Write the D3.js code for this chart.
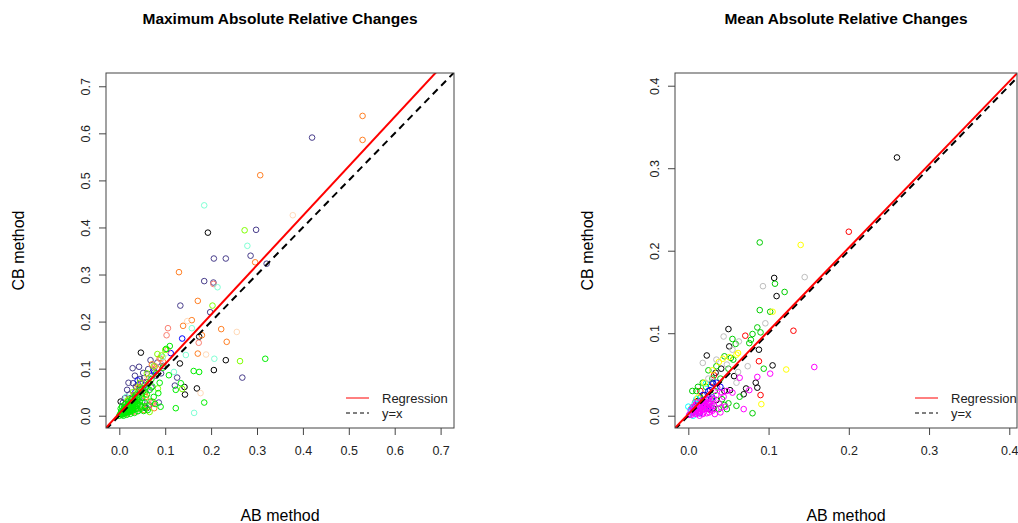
<!DOCTYPE html>
<html>
<head>
<meta charset="utf-8">
<script src="https://cdn.jsdelivr.net/npm/d3@7"></script>
<style>
  html, body { margin: 0; padding: 0; background: #fff; }
  svg { display: block; font-family: "Liberation Sans", Arial, sans-serif; }
</style>
</head>
<body>
<svg id="chart" width="1018" height="523"></svg>
<script>
// ---- Maximum absolute relative changes: [AB method, CB method] per group ----
const maxBlack = [[0.193,0.389],[0.232,0.118],[0.206,0.097],[0.174,0.168],[0.132,0.111],[0.047,0.134],
  [0.142,0.061],[0.143,0.045],[0.169,0.058],[0.003,0.030],[0.034,0.040],[0.056,0.017],[0.020,0.025],
  [0.045,0.060],[0.012,0.008]];
const maxSlate = [[0.420,0.591],[0.298,0.395],[0.286,0.340],[0.321,0.323],[0.206,0.334],[0.232,0.334],
  [0.185,0.286],[0.205,0.283],[0.133,0.234],[0.198,0.220],[0.268,0.081],[0.126,0.081],[0.121,0.064],
  [0.068,0.118],[0.029,0.101],[0.043,0.104],[0.091,0.090],[0.086,0.028],[0.052,0.091],[0.063,0.099],
  [0.076,0.092],[0.030,0.069],[0.036,0.062],[0.017,0.055],[0.012,0.037],[0.039,0.044],[0.057,0.051],
  [0.050,0.030],[0.065,0.023],[0.083,0.113],[0.096,0.106],[0.022,0.045],[0.045,0.078],[0.058,0.072],
  [0.008,0.028],[0.070,0.060],[0.034,0.085],[0.020,0.070],[0.060,0.016],[0.080,0.085],[0.048,0.055],
  [0.014,0.018],[0.026,0.038],[0.041,0.066],[0.054,0.080],[0.018,0.030]];
const maxBlue = [[0.137,0.164],[0.112,0.133],[0.040,0.075],[0.025,0.035],[0.055,0.065],[0.010,0.015],
  [0.070,0.085],[0.035,0.050],[0.075,0.096]];
const maxOrange = [[0.530,0.637],[0.530,0.586],[0.307,0.511],[0.296,0.326],[0.130,0.305],[0.171,0.244],
  [0.158,0.203],[0.139,0.191],[0.222,0.184],[0.234,0.157],[0.180,0.171],[0.171,0.132],[0.071,0.109],
  [0.032,0.044],[0.072,0.030],[0.076,0.016],[0.038,0.009],[0.054,0.012],[0.088,0.122],[0.065,0.080],
  [0.045,0.058],[0.020,0.030],[0.095,0.115],[0.058,0.040],[0.025,0.012],[0.082,0.100],[0.012,0.006]];
const maxSalmon = [[0.205,0.280],[0.106,0.186],[0.103,0.171],[0.173,0.155],[0.074,0.028],[0.105,0.140],
  [0.090,0.120],[0.050,0.070],[0.030,0.008],[0.062,0.022],[0.078,0.105],[0.018,0.004],[0.042,0.015]];
const maxBisque = [[0.378,0.426],[0.148,0.201],[0.256,0.178],[0.189,0.130],[0.177,0.048],[0.100,0.132],
  [0.060,0.085]];
const maxAqua = [[0.185,0.447],[0.279,0.361],[0.214,0.273],[0.158,0.186],[0.207,0.121],[0.145,0.129],
  [0.119,0.093],[0.163,0.006],[0.040,0.010],[0.015,0.040],[0.095,0.125]];
const maxGold = [[0.030,0.022],[0.055,0.045],[0.018,0.032],[0.040,0.060],[0.065,0.070]];
const maxChart = [[0.273,0.394],[0.203,0.234],[0.263,0.116],[0.137,0.057],[0.083,0.131],[0.084,0.058],
  [0.100,0.140],[0.092,0.128],[0.060,0.090],[0.045,0.070],[0.030,0.050],[0.075,0.105],[0.020,0.035],
  [0.010,0.012],[0.050,0.020],[0.066,0.008]];
const maxGreen = [[0.318,0.121],[0.162,0.095],[0.174,0.093],[0.185,0.028],[0.123,0.016],[0.090,0.019],
  [0.108,0.086],[0.102,0.142],[0.110,0.148],[0.085,0.048],[0.134,0.069],[0.123,0.055],
  [0.002,0.004],[0.005,0.008],[0.008,0.003],[0.010,0.012],[0.012,0.006],[0.015,0.015],[0.018,0.010],
  [0.020,0.020],[0.022,0.008],[0.025,0.018],[0.028,0.025],[0.030,0.012],[0.032,0.030],[0.035,0.020],
  [0.038,0.035],[0.040,0.025],[0.042,0.040],[0.045,0.030],[0.048,0.045],[0.050,0.038],[0.052,0.052],
  [0.055,0.028],[0.058,0.060],[0.060,0.045],[0.063,0.068],[0.066,0.055],[0.070,0.078],[0.072,0.062],
  [0.075,0.040],[0.080,0.090],[0.003,0.015],[0.006,0.020],[0.009,0.000],[0.013,0.025],[0.016,0.002],
  [0.019,0.030],[0.024,0.004],[0.027,0.035],[0.033,0.006],[0.036,0.045],[0.041,0.010],[0.044,0.055],
  [0.047,0.015],[0.053,0.010],[0.057,0.020],[0.062,0.012],[0.068,0.030],[0.078,0.025],[0.088,0.070],
  [0.095,0.102],[0.000,0.000],[0.004,0.010],[0.011,0.018],[0.017,0.022],[0.023,0.028],[0.029,0.018],
  [0.034,0.040],[0.039,0.015],[0.046,0.022],[0.051,0.058],
  [0.005,0.002],[0.007,0.006],[0.010,0.005],[0.012,0.010],[0.014,0.008],[0.016,0.012],[0.018,0.016],
  [0.020,0.014],[0.022,0.018],[0.024,0.022],[0.026,0.020],[0.028,0.015],[0.030,0.026],[0.032,0.022],
  [0.034,0.028],[0.036,0.030],[0.038,0.026],[0.040,0.032],[0.015,0.006],[0.019,0.008],[0.023,0.012],
  [0.027,0.010],[0.031,0.016],[0.035,0.014],[0.008,0.012],[0.012,0.016],[0.016,0.020],[0.021,0.024],
  [0.025,0.030],[0.006,0.004]];

// ---- Mean absolute relative changes: [AB method, CB method] per group ----
const meanBlack = [[0.260,0.313],[0.107,0.167],[0.110,0.145],[0.050,0.105],[0.051,0.084],[0.088,0.080],
  [0.023,0.073],[0.041,0.057],[0.105,0.061],[0.057,0.048],[0.084,0.040],[0.086,0.034],[0.072,0.033],
  [0.069,0.026],[0.052,0.031],[0.035,0.019],[0.031,0.009],[0.030,0.040],[0.020,0.025],[0.012,0.018],
  [0.045,0.030],[0.025,0.008],[0.034,0.052],[0.008,0.010]];
const meanRed = [[0.200,0.223],[0.131,0.103],[0.071,0.097],[0.088,0.066],[0.090,0.025],[0.032,0.049],
  [0.009,0.017],[0.015,0.030],[0.022,0.012],[0.028,0.035],[0.005,0.010]];
const meanGreen = [[0.089,0.210],[0.108,0.160],[0.120,0.150],[0.089,0.128],[0.102,0.126],[0.086,0.107],
  [0.090,0.101],[0.080,0.099],[0.078,0.092],[0.076,0.088],[0.055,0.093],[0.059,0.087],[0.045,0.072],
  [0.053,0.070],[0.056,0.068],[0.050,0.057],[0.094,0.057],[0.064,0.023],[0.080,0.003],[0.045,0.013],
  [0.012,0.035],[0.005,0.030],[0.035,0.060],[0.030,0.045],[0.025,0.055],[0.040,0.045],[0.018,0.040],
  [0.010,0.030],[0.042,0.020],[0.050,0.015],[0.028,0.020],[0.020,0.010],[0.033,0.030],[0.015,0.022],
  [0.048,0.008],[0.060,0.012],[0.038,0.008],[0.022,0.035]];
const meanBlue = [[0.015,0.018],[0.025,0.030],[0.010,0.008],[0.035,0.040],[0.020,0.012],[0.030,0.022],
  [0.005,0.004],[0.040,0.035],[0.018,0.025],[0.028,0.010],[0.027,0.031],[0.031,0.039],
  [0.008,0.005],[0.012,0.013],[0.016,0.014],[0.022,0.020],[0.014,0.003]];
const meanCyan = [[0.003,0.008],[0.008,0.015],[0.012,0.005],[0.002,0.002],[0.006,0.000],[0.018,0.008],
  [0.010,0.020],[0.022,0.039],[0.000,0.011],[0.004,0.005],[0.011,0.011]];
const meanMagenta = [[0.157,0.059],[0.102,0.051],[0.086,0.047],[0.064,0.046],[0.076,0.031],[0.069,0.008],
  [0.046,0.011],[0.044,0.023],[0.042,0.028],[0.041,0.010],[0.005,0.003],[0.008,0.006],[0.010,0.002],
  [0.012,0.010],[0.015,0.005],[0.018,0.012],[0.020,0.008],[0.022,0.015],[0.025,0.010],[0.028,0.018],
  [0.030,0.006],[0.003,0.006],[0.006,0.010],[0.014,0.000],[0.017,0.018],[0.023,0.003],[0.026,0.022],
  [0.032,0.012],[0.035,0.025],[0.038,0.015],[0.001,0.001],[0.009,0.013],[0.011,0.016],[0.019,0.004],
  [0.024,0.020],[0.033,0.002],[0.016,0.009],[0.013,0.004],[0.021,0.011],[0.027,0.007],[0.048,0.030],
  [0.040,0.004],[0.055,0.028],[0.036,0.034],
  [0.004,0.001],[0.007,0.004],[0.009,0.003],[0.011,0.007],[0.013,0.008],[0.015,0.011],[0.017,0.007],
  [0.019,0.014],[0.021,0.013],[0.023,0.009],[0.025,0.016],[0.027,0.014],[0.029,0.012],[0.031,0.020],
  [0.014,0.012],[0.018,0.002],[0.010,0.009],[0.006,0.007],[0.020,0.017],[0.026,0.004]];
const meanYellow = [[0.140,0.207],[0.105,0.126],[0.122,0.056],[0.091,0.014],[0.043,0.069],[0.060,0.074],
  [0.051,0.071],[0.062,0.076],[0.030,0.055],[0.020,0.040],[0.038,0.065],[0.012,0.022]];
const meanGray = [[0.145,0.168],[0.093,0.157],[0.096,0.112],[0.044,0.096],[0.063,0.090],[0.074,0.060],
  [0.062,0.053],[0.018,0.064],[0.035,0.068],[0.025,0.045],[0.055,0.080],[0.048,0.062],[0.030,0.015],
  [0.060,0.040]];

// axis ticks and fitted lines
const maxTicks = [0, 0.1, 0.2, 0.3, 0.4, 0.5, 0.6, 0.7];
const meanTicks = [0, 0.1, 0.2, 0.3, 0.4];
const maxFit = { intercept: 0.005, slope: 1.05 };
const meanFit = { intercept: 0.002, slope: 1.008 };
const legendLabels = ["Regression", "y=x"];

const svg = d3.select("#chart");

function drawPanel(cfg) {
  const x = d3.scaleLinear().domain(cfg.xDomain).range([cfg.left, cfg.right]);
  const y = d3.scaleLinear().domain(cfg.yDomain).range([cfg.bottom, cfg.top]);
  const g = svg.append("g");

  // title
  g.append("text")
    .attr("x", (cfg.left + cfg.right) / 2).attr("y", 24)
    .attr("text-anchor", "middle")
    .style("font-size", "15.5px").style("font-weight", "bold").attr("fill", "#000")
    .text(cfg.title);

  // x axis
  const xa = g.append("g").attr("transform", `translate(0,${cfg.bottom})`)
    .call(d3.axisBottom(x).tickValues(cfg.ticks).tickFormat(d3.format(".1f")).tickSize(7).tickPadding(11));
  xa.select(".domain").remove();
  xa.selectAll("line").attr("stroke", "#444");
  xa.selectAll("text").style("font-size", "12.5px").attr("fill", "#222")
    .style("font-family", "'Liberation Sans', Arial, sans-serif");

  // y axis with rotated labels
  const ya = g.append("g").attr("transform", `translate(${cfg.left},0)`)
    .call(d3.axisLeft(y).tickValues(cfg.ticks).tickFormat(d3.format(".1f")).tickSize(7));
  ya.select(".domain").remove();
  ya.selectAll("line").attr("stroke", "#444");
  ya.selectAll("text")
    .attr("transform", "rotate(-90)")
    .attr("x", 0).attr("y", -16).attr("dy", 0)
    .style("text-anchor", "middle").style("font-size", "12.5px").attr("fill", "#222")
    .style("font-family", "'Liberation Sans', Arial, sans-serif");

  // axis titles
  g.append("text")
    .attr("x", (cfg.left + cfg.right) / 2).attr("y", 521)
    .attr("text-anchor", "middle").style("font-size", "16px").attr("fill", "#000")
    .text("AB method");
  g.append("text")
    .attr("transform", `translate(${cfg.left - 82},${(cfg.top + cfg.bottom) / 2}) rotate(-90)`)
    .attr("text-anchor", "middle").style("font-size", "16px").attr("fill", "#000")
    .text("CB method");

  // clip region for points and lines
  const clipId = "clip-" + cfg.id;
  svg.append("clipPath").attr("id", clipId).append("rect")
    .attr("x", cfg.left).attr("y", cfg.top)
    .attr("width", cfg.right - cfg.left).attr("height", cfg.bottom - cfg.top);
  const plot = g.append("g").attr("clip-path", `url(#${clipId})`);

  // points, series by series
  cfg.series.forEach(s => {
    plot.append("g").selectAll("circle").data(s.data).join("circle")
      .attr("cx", d => x(d[0])).attr("cy", d => y(d[1]))
      .attr("r", 2.8).attr("fill", "none")
      .attr("stroke", s.color).attr("stroke-width", 1);
  });

  // y = x reference and regression line
  const x0 = cfg.xDomain[0], x1 = cfg.xDomain[1];
  plot.append("line")
    .attr("x1", x(x0)).attr("y1", y(x0)).attr("x2", x(x1)).attr("y2", y(x1))
    .attr("stroke", "#000").attr("stroke-width", 2).attr("stroke-dasharray", "7,5");
  plot.append("line")
    .attr("x1", x(x0)).attr("y1", y(cfg.fit.intercept + cfg.fit.slope * x0))
    .attr("x2", x(x1)).attr("y2", y(cfg.fit.intercept + cfg.fit.slope * x1))
    .attr("stroke", "#FF0000").attr("stroke-width", 2);

  // frame
  g.append("rect")
    .attr("x", cfg.left).attr("y", cfg.top)
    .attr("width", cfg.right - cfg.left).attr("height", cfg.bottom - cfg.top)
    .attr("fill", "none").attr("stroke", "#444").attr("stroke-width", 1);

  // legend
  const lg = g.append("g").attr("transform", `translate(${cfg.legendX},398)`);
  const styles = [{ stroke: "#FF0000", dash: null }, { stroke: "#000", dash: "4,3" }];
  legendLabels.forEach((lab, i) => {
    lg.append("line").attr("x1", 0).attr("x2", 23).attr("y1", i * 15).attr("y2", i * 15)
      .attr("stroke", styles[i].stroke).attr("stroke-width", 1)
      .attr("stroke-dasharray", styles[i].dash);
    lg.append("text").attr("x", 36).attr("y", i * 15).attr("dy", "0.35em")
      .style("font-size", "13px").attr("fill", "#222").text(lab);
  });
}

drawPanel({
  id: "max", title: "Maximum Absolute Relative Changes",
  left: 106, right: 454, top: 73, bottom: 428,
  xDomain: [-0.029, 0.7292], yDomain: [-0.0261, 0.7282],
  ticks: maxTicks, fit: maxFit, legendX: 346,
  series: [
    { data: maxBlack, color: "#000000" },
    { data: maxSlate, color: "#483D8B" },
    { data: maxBlue, color: "#0000FF" },
    { data: maxOrange, color: "#FF7F24" },
    { data: maxSalmon, color: "#FA8072" },
    { data: maxBisque, color: "#FFDAB9" },
    { data: maxAqua, color: "#7FFFD4" },
    { data: maxGold, color: "#EEC900" },
    { data: maxChart, color: "#7FFF00" },
    { data: maxGreen, color: "#00EE00" }
  ]
});

drawPanel({
  id: "mean", title: "Mean Absolute Relative Changes",
  left: 675, right: 1017, top: 73, bottom: 428,
  xDomain: [-0.0166, 0.4096], yDomain: [-0.0149, 0.4154],
  ticks: meanTicks, fit: meanFit, legendX: 915,
  series: [
    { data: meanBlack, color: "#000000" },
    { data: meanRed, color: "#FF0000" },
    { data: meanGreen, color: "#00CD00" },
    { data: meanBlue, color: "#0000FF" },
    { data: meanCyan, color: "#00FFFF" },
    { data: meanYellow, color: "#FFFF00" },
    { data: meanGray, color: "#BEBEBE" },
    { data: meanMagenta, color: "#FF00FF" }
  ]
});
</script>
</body>
</html>
